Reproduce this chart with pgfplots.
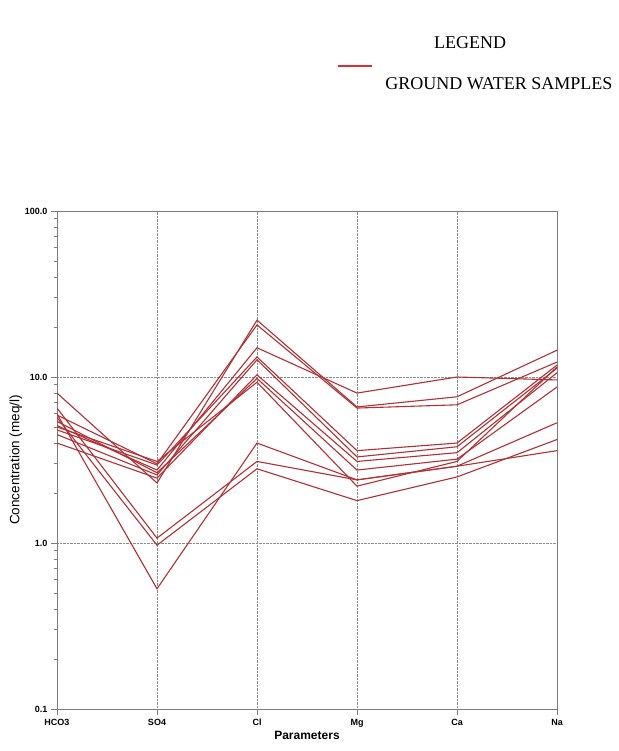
\documentclass[border=0pt]{standalone}
\usepackage{fontspec}
\setmainfont{Liberation Serif}
\setsansfont{Liberation Sans}
\usepackage{pgfplots}
\pgfplotsset{compat=1.18}
\definecolor{ln}{RGB}{178,48,52}
\definecolor{ax}{RGB}{125,125,125}
\definecolor{gr}{RGB}{140,140,140}
\definecolor{lg}{RGB}{225,45,45}
\tikzset{smp/.style={ln, solid, line width=1.1pt, mark=none}}
\begin{document}
\begin{tikzpicture}
\path[use as bounding box] (0pt,0pt) rectangle (618pt,751pt);
\begin{axis}[at={(57pt,42pt)}, anchor=south west, width=500pt, height=498pt, scale only axis,
  xmin=0, xmax=5, ymode=log, ymin=0.1, ymax=100,
  xtick={0,1,2,3,4,5}, xticklabels={HCO3,SO4,Cl,Mg,Ca,Na},
  ytick={0.1,1,10,100}, yticklabels={0.1,1.0,10.0,100.0},
  grid=major, grid style={densely dotted, gr, line width=0.6pt},
  axis line style={ax, line width=0.9pt},
  tick style={ax, line width=0.7pt}, tick align=outside, tick pos=left,
  major tick length=6pt, minor tick length=3.5pt,
  ticklabel style={font=\sffamily\bfseries\fontsize{9}{10}\selectfont},
  xticklabel style={text height=1.6ex, text depth=0pt},
  xlabel={Parameters}, xlabel style={font=\sffamily\bfseries\fontsize{12}{13}\selectfont, yshift=2pt},
  ylabel={Concentration (meq/l)}, ylabel style={font=\sffamily\fontsize{13.5}{14}\selectfont, yshift=-4pt}]
\addplot[smp] coordinates {(0,8.0) (1,2.3) (2,22) (3,6.6) (4,7.6) (5,14.5)};
\addplot[smp] coordinates {(0,5.9) (1,3.0) (2,20.6) (3,6.5) (4,6.8) (5,12.3)};
\addplot[smp] coordinates {(0,5.1) (1,2.75) (2,15) (3,8.0) (4,10) (5,9.6)};
\addplot[smp] coordinates {(0,4.8) (1,2.95) (2,13.2) (3,3.6) (4,4.0) (5,11.8)};
\addplot[smp] coordinates {(0,4.5) (1,2.57) (2,12.7) (3,3.3) (4,3.8) (5,11.3)};
\addplot[smp] coordinates {(0,4.0) (1,2.46) (2,10.3) (3,3.1) (4,3.5) (5,10.6)};
\addplot[smp] coordinates {(0,5.4) (1,2.65) (2,9.8) (3,2.75) (4,3.2) (5,8.7)};
\addplot[smp] coordinates {(0,5.0) (1,3.1) (2,9.3) (3,2.2) (4,3.1) (5,11.5)};
\addplot[smp] coordinates {(0,6.5) (1,1.07) (2,3.1) (3,2.4) (4,2.9) (5,5.3)};
\addplot[smp] coordinates {(0,5.7) (1,0.97) (2,2.8) (3,1.8) (4,2.5) (5,4.2)};
\addplot[smp] coordinates {(0,6.0) (1,0.53) (2,4.0) (3,2.4) (4,2.9) (5,3.6)};
\end{axis}
\node[font=\fontsize{18}{20}\selectfont] at (470pt,708pt) {LEGEND};
\draw[lg, line width=1.3pt] (338pt,685pt) -- (372pt,685pt);
\node[font=\fontsize{18}{20}\selectfont] at (499pt,667pt) {GROUND WATER SAMPLES};
\end{tikzpicture}
\end{document}
